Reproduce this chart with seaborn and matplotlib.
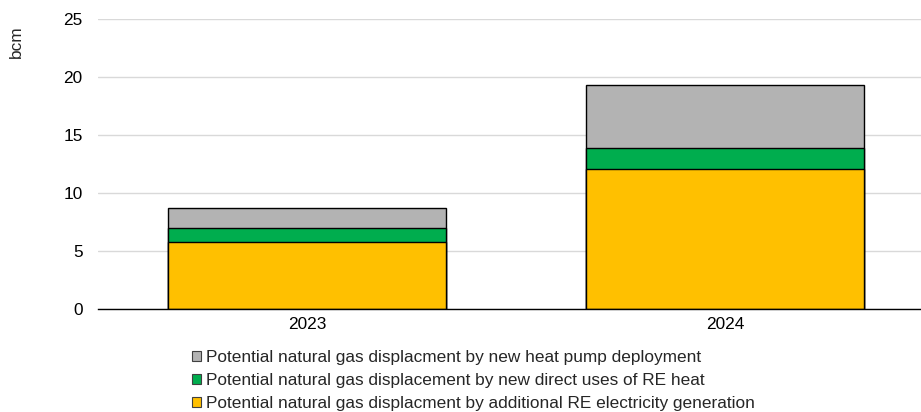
import seaborn as sns
import numpy as np
import pandas as pd
import matplotlib.pyplot as plt
from matplotlib.patches import Patch

years = ['2023', '2024']
re_electricity = [5.8, 12.1]
re_heat = [1.2, 1.8]
heat_pump = [1.7, 5.4]

labels = ['Potential natural gas displacment by new heat pump deployment',
          'Potential natural gas displacement by new direct uses of RE heat',
          'Potential natural gas displacment by additional RE electricity generation']
colors = ['#b3b3b3', '#00ad4e', '#ffc000']

sns.set_style('white')
plt.rcParams['font.family'] = ['Liberation Sans', 'DejaVu Sans']
fs = 12.4

# cumulative tops, drawn back to front
df = pd.DataFrame({'year': years,
                   'elec': re_electricity,
                   'heat': np.add(re_electricity, re_heat),
                   'total': np.add(np.add(re_electricity, re_heat), heat_pump)})

fig = plt.figure(figsize=(9.21, 4.12), dpi=100)
ax = fig.add_axes([98/921, 103/412, 836/921, 290/412])

for col, c in zip(['total', 'heat', 'elec'], colors):
    sns.barplot(data=df, x='year', y=col, color=c, width=0.665,
                edgecolor='black', linewidth=1, saturation=1, ax=ax)

ax.set_xlim(-0.5, 1.5)
ax.set_ylim(0, 25)
ax.set_yticks(range(0, 26, 5))
ax.yaxis.grid(True, color='#d9d9d9', linewidth=1)
ax.set_axisbelow(True)
for s in ['top', 'right', 'left']:
    ax.spines[s].set_visible(False)
ax.spines['bottom'].set_color('black')
ax.spines['bottom'].set_linewidth(1)
ax.tick_params(axis='both', length=0, labelsize=fs, colors='black')
ax.tick_params(axis='x', pad=6)
ax.tick_params(axis='y', pad=11)
ax.set_xlabel('')
ax.set_ylabel('')

fig.text(16/921, 1 - 42/412, 'bcm', rotation=90, ha='center', va='center', fontsize=fs)

handles = [Patch(facecolor=c, edgecolor='#404040', linewidth=0.8) for c in colors]
fig.legend(handles, labels, loc='upper left', bbox_to_anchor=(192/921, 1 - 350/412),
           frameon=False, fontsize=fs, handlelength=0.55, handleheight=0.55,
           handletextpad=0.25, labelspacing=0.47, borderpad=0, borderaxespad=0)

fig.savefig('out.png', dpi=100)
